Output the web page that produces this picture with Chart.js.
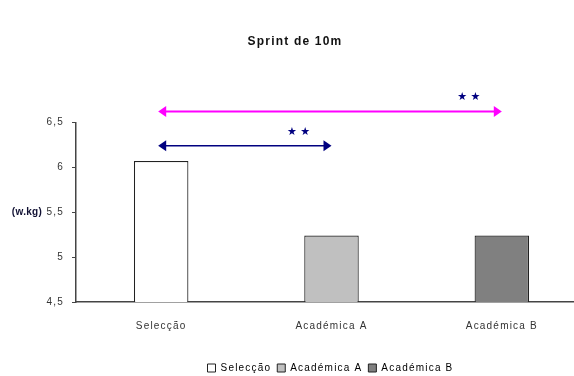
<!DOCTYPE html>
<html lang="pt">
<head>
<meta charset="UTF-8">
<title>Sprint de 10m</title>
<script src="https://cdn.jsdelivr.net/npm/chart.js"></script>
<style>
  html, body { margin: 0; padding: 0; background: #fff; }
  #wrap { width: 574px; height: 376px; }
</style>
</head>
<body>
<div id="wrap"><canvas id="grafico"></canvas></div>
<script>
// dados do gráfico
const categorias = ['Selecção', 'Académica A', 'Académica B'];
const valores = [6.07, 5.24, 5.24];
const yTicks = [4.5, 5, 5.5, 6, 6.5];
// comparações significativas (índice de / até, nível no eixo y, marca)
const compDe = [0, 0];
const compAte = [2, 1];
const compNivel = [6.62, 6.24];
const compMarca = ['★ ★', '★ ★'];

const coresBarras = ['#ffffff', '#c0c0c0', '#808080'];
const coresSetas = ['#ff00ff', '#000080'];
const fonte = 'Liberation Sans, Arial, sans-serif';

// espaçamento entre letras, como no original
const espacamento = {
  id: 'espacamento',
  beforeUpdate(chart) { chart.ctx.letterSpacing = '1.2px'; },
  beforeDraw(chart) { chart.ctx.letterSpacing = '1.2px'; }
};

// a área do gráfico passa um pouco da borda direita; título e legenda ficam mais à direita
const ajustarLayout = {
  id: 'ajustarLayout',
  afterLayout(chart) {
    const x = chart.scales.x;
    chart.chartArea.right += 13;
    chart.chartArea.width += 13;
    x.right += 13;
    x.width += 13;
    x.configure();
    chart.titleBlock.left += 16;
    chart.legend.left += 87;
    chart.legend.top += 7;
    chart.legend.bottom += 7;
  }
};

// setas de comparação e título do eixo y
const marcas = {
  id: 'marcas',
  afterDatasetsDraw(chart) {
    const { ctx, scales: { x, y } } = chart;
    ctx.save();
    compDe.forEach((de, i) => {
      const x1 = x.getPixelForValue(de) - 3;
      const x2 = x.getPixelForValue(compAte[i]);
      const yy = y.getPixelForValue(compNivel[i]);
      ctx.strokeStyle = coresSetas[i];
      ctx.fillStyle = coresSetas[i];
      ctx.lineWidth = i === 0 ? 2 : 1.6;
      ctx.beginPath();
      ctx.moveTo(x1 + 6, yy);
      ctx.lineTo(x2 - 6, yy);
      ctx.stroke();
      ctx.beginPath();
      ctx.moveTo(x1, yy);
      ctx.lineTo(x1 + 8, yy - 5.5);
      ctx.lineTo(x1 + 8, yy + 5.5);
      ctx.closePath();
      ctx.fill();
      ctx.beginPath();
      ctx.moveTo(x2, yy);
      ctx.lineTo(x2 - 8, yy - 5.5);
      ctx.lineTo(x2 - 8, yy + 5.5);
      ctx.closePath();
      ctx.fill();
      ctx.fillStyle = '#000080';
      ctx.letterSpacing = '0px';
      ctx.font = '11px DejaVu Sans';
      ctx.textAlign = 'center';
      ctx.textBaseline = 'middle';
      ctx.fillText(compMarca[i], x2 - 33, yy - 14);
    });
    ctx.fillStyle = '#111133';
    ctx.letterSpacing = '0.3px';
    ctx.font = 'bold 10px ' + fonte;
    ctx.textAlign = 'center';
    ctx.textBaseline = 'middle';
    ctx.fillText('(w.kg)', 27, y.getPixelForValue(5.5));
    ctx.restore();
  }
};

new Chart(document.getElementById('grafico'), {
  type: 'bar',
  data: {
    labels: categorias,
    datasets: [{
      data: valores,
      backgroundColor: coresBarras,
      borderColor: '#222',
      borderWidth: 1.2,
      barPercentage: 0.32,
      categoryPercentage: 1
    }]
  },
  options: {
    responsive: true,
    maintainAspectRatio: false,
    animation: false,
    layout: { padding: { left: 0, right: 0, bottom: 0 } },
    plugins: {
      tooltip: { enabled: false },
      title: {
        display: true,
        text: 'Sprint de 10m',
        color: '#111',
        font: { family: fonte, size: 12, weight: 'bold' },
        padding: { top: 34, bottom: 74 }
      },
      legend: {
        position: 'bottom',
        labels: {
          color: '#222',
          font: { family: fonte, size: 10 },
          boxWidth: 8,
          boxHeight: 8,
          padding: 6,
          generateLabels: () => categorias.map((c, i) => ({
            text: c,
            fillStyle: coresBarras[i],
            strokeStyle: '#222',
            lineWidth: 1,
            hidden: false,
            index: i,
            datasetIndex: 0
          }))
        }
      }
    },
    scales: {
      x: {
        grid: { display: false, drawTicks: false },
        border: { display: true, color: '#444', width: 1.5 },
        ticks: { color: '#333', font: { family: fonte, size: 10 }, padding: 18 }
      },
      y: {
        min: 4.5,
        max: 6.5,
        afterBuildTicks: s => { s.ticks = yTicks.map(v => ({ value: v })); },
        afterFit: s => { s.width = 76; },
        grid: { drawOnChartArea: false, drawTicks: true, tickLength: 4, color: '#444' },
        border: { color: '#444', width: 1.5 },
        ticks: {
          color: '#333',
          font: { family: fonte, size: 10 },
          padding: 8,
          callback: v => String(v).replace('.', ',')
        }
      }
    }
  },
  plugins: [espacamento, ajustarLayout, marcas]
});
</script>
</body>
</html>
